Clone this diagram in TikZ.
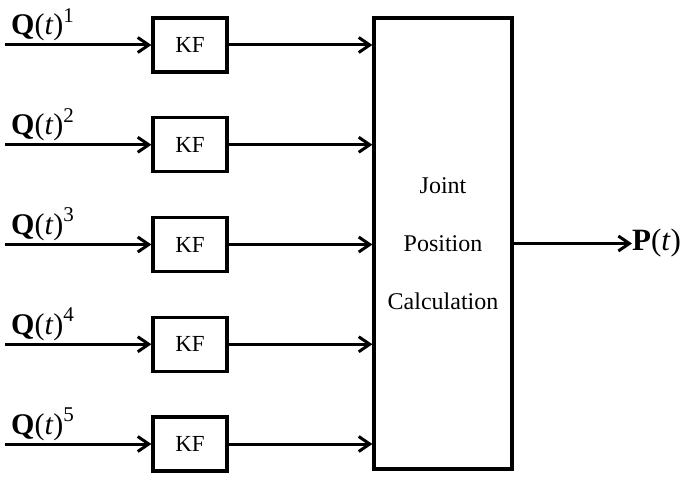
\documentclass[tikz,border=0pt]{standalone}
\usepackage{fontspec}
\setmainfont{Liberation Serif}
\usetikzlibrary{arrows.meta}

% signal label: bold Q, italic t, raised channel index
\newcommand{\sigQ}[1]{\fontsize{30}{32}\selectfont\textbf{Q}(\textit{t})\raisebox{0.42em}{\fontsize{21}{21}\selectfont #1}}

\begin{document}
\begin{tikzpicture}[x=1pt,y=-1pt,
  wire/.style={line width=3pt,-{Straight Barb[length=11pt,width=15pt,line width=3pt]}},
  kfbox/.style={draw,line width=3.2pt,minimum width=74pt,minimum height=54pt,inner sep=0pt,
    font=\fontsize{23}{26}\selectfont},
  calcbox/.style={draw,line width=3.2pt,minimum width=138pt,minimum height=451pt,inner sep=0pt},
  calctext/.style={anchor=base,font=\fontsize{24}{26}\selectfont,inner sep=0pt},
  siglabel/.style={anchor=base west,inner sep=0pt}]
\useasboundingbox (0,0) rectangle (687,476);

% joint position calculation block
\node[calcbox] (jpc) at (443,243.5) {};
\node[calctext] (t1) at (443,193) {Joint};
\node[calctext] (t2) at (443,251) {Position};
\node[calctext] (t3) at (443,309) {Calculation};

% five Kalman filter channels
\foreach \i in {1,...,5}{
  \pgfmathsetmacro{\ry}{45+99.75*(\i-1)}
  \node[kfbox] (kf\i) at (190,\ry) {KF};
  \coordinate (in\i) at (5,\ry);
  \node[siglabel] (q\i) at (11,\ry-10) {\sigQ{\i}};
  \draw[wire] (in\i) -- (kf\i.west);
  \draw[wire] (kf\i.east) -- (kf\i.east -| jpc.west);
}

% output
\node[anchor=west,inner sep=0pt,font=\fontsize{31}{33}\selectfont] (P) at (632,243.5) {\textbf{P}(\textit{t})};
\draw[wire] (jpc.east) -- (P.west);
\end{tikzpicture}
\end{document}
